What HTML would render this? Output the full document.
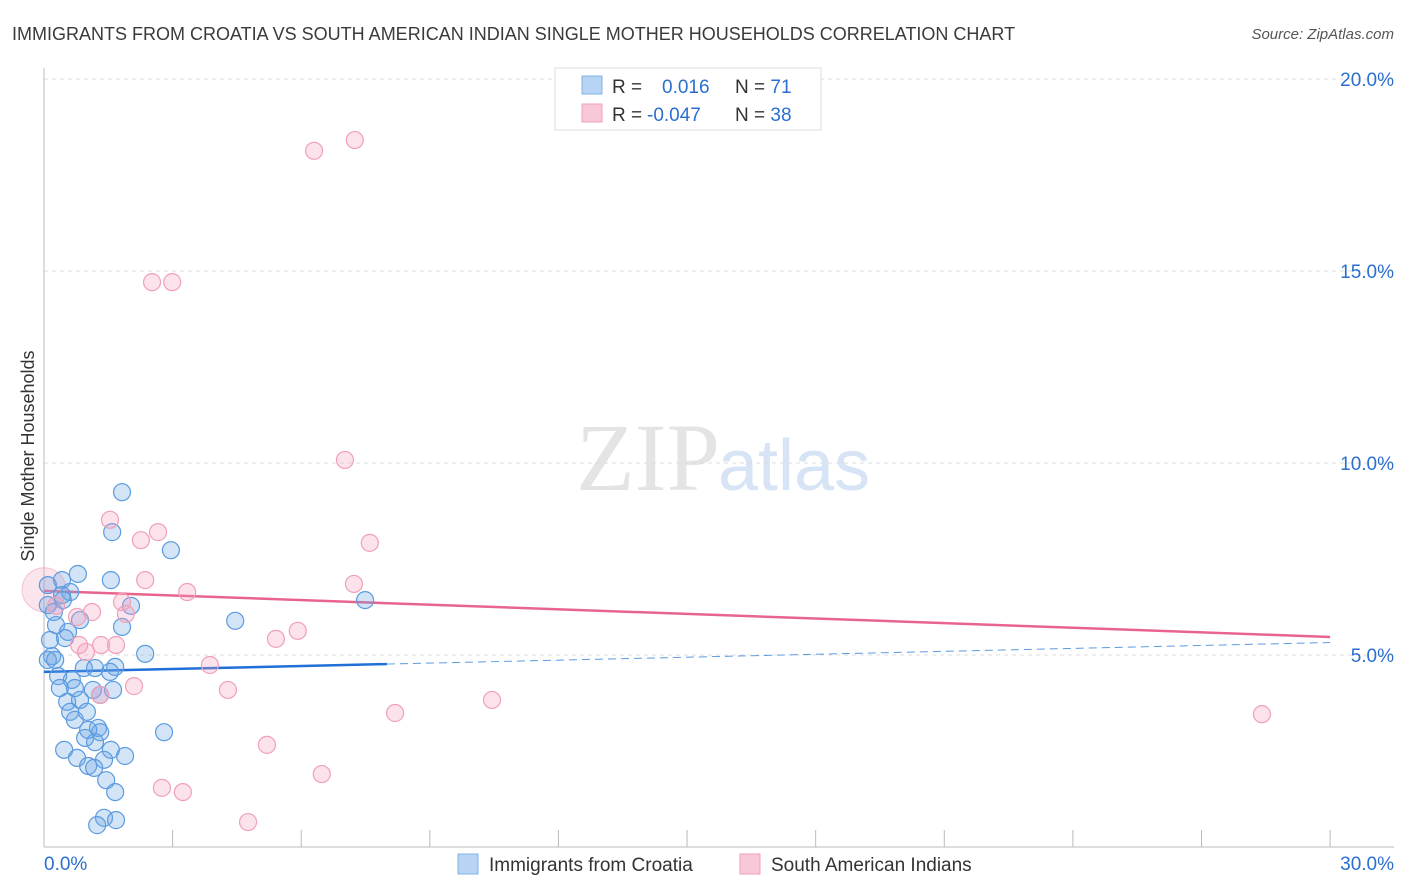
<!DOCTYPE html>
<html><head><meta charset="utf-8"><style>
body{margin:0;background:#fff;font-family:"Liberation Sans",sans-serif}
svg{display:block}
</style></head><body>
<svg id="c" width="1406" height="892">
<text x="12" y="40" font-size="18" fill="#3a3a3a">IMMIGRANTS FROM CROATIA VS SOUTH AMERICAN INDIAN SINGLE MOTHER HOUSEHOLDS CORRELATION CHART</text>
<text x="1394" y="39" font-size="15" fill="#555" text-anchor="end" font-style="italic">Source: ZipAtlas.com</text>
<text x="720" y="490" font-size="96" fill="#e4e4e4" text-anchor="end" font-family="Liberation Serif">ZIP</text>
<text x="718" y="490" font-size="72" fill="#d6e4f5">atlas</text>
<text transform="translate(34,456) rotate(-90)" font-size="18" fill="#333" text-anchor="middle">Single Mother Households</text>
<g id="grid"></g><g id="axes"></g><g id="lines"></g><g id="pts"></g>
<g>
<rect x="555" y="68" width="266" height="62" fill="#fff" stroke="#ddd"/>
<rect x="582" y="76" width="20" height="18" fill="#b8d4f5" stroke="#7fb0e8"/>
<rect x="582" y="104" width="20" height="18" fill="#f8c8d8" stroke="#f0a0b8"/>
<text x="612" y="93" font-size="19" fill="#333">R = <tspan fill="#2a6fd0" x="662">0.016</tspan><tspan x="735" fill="#333">N = </tspan><tspan fill="#2a6fd0">71</tspan></text>
<text x="612" y="121" font-size="19" fill="#333">R = <tspan fill="#2a6fd0" x="647">-0.047</tspan><tspan x="735" fill="#333">N = </tspan><tspan fill="#2a6fd0">38</tspan></text>
</g>
<g>
<rect x="458" y="854" width="20" height="20" fill="#b8d4f5" stroke="#7fb0e8"/>
<text x="489" y="871" font-size="19" fill="#333">Immigrants from Croatia</text>
<rect x="740" y="854" width="20" height="20" fill="#f8c8d8" stroke="#f0a0b8"/>
<text x="771" y="871" font-size="19" fill="#333">South American Indians</text>
</g>
</svg>
<script>
const blueX=[1.82,1.59,2.96,0.79,1.56,0.42,0.09,0.61,0.44,2.03,4.46,7.49,0.84,0.28,1.82,0.56,0.49,0.14,2.36,0.19,0.09,0.26,0.93,1.19,1.66,1.54,0.33,0.65,0.72,0.37,1.14,1.61,1.31,0.54,0.84,0.61,1.00,0.72,2.80,1.26,1.31,1.03,0.96,1.19,0.47,1.56,1.89,0.77,1.40,1.03,1.17,1.45,1.66,1.40,1.24,1.68,0.09,0.23,0.42];
const blueY=[9.24,8.20,7.73,7.11,6.95,6.95,6.82,6.64,6.43,6.28,5.89,6.43,5.91,5.78,5.73,5.60,5.44,5.39,5.03,4.97,4.87,4.87,4.66,4.66,4.69,4.56,4.45,4.35,4.14,4.14,4.09,4.09,3.96,3.78,3.83,3.52,3.52,3.31,2.99,3.10,2.99,3.05,2.84,2.73,2.53,2.53,2.37,2.32,2.27,2.11,2.06,1.74,1.43,0.76,0.57,0.70,6.30,6.12,6.56];
const pinkX=[6.30,7.25,2.52,2.99,7.02,1.54,2.66,2.26,7.60,2.36,7.23,3.34,1.12,1.91,0.77,1.82,0.28,5.41,5.92,1.33,1.68,0.82,0.98,3.87,2.10,4.29,1.31,8.19,10.45,28.41,5.20,6.48,2.75,3.24,4.76];
const pinkY=[18.13,18.41,14.71,14.71,10.08,8.52,8.20,7.99,7.92,6.95,6.85,6.64,6.12,6.07,5.99,6.38,6.28,5.42,5.63,5.26,5.26,5.26,5.08,4.74,4.19,4.09,3.96,3.49,3.83,3.46,2.66,1.90,1.54,1.43,0.65];
const yTicks=[5,10,15,20];
const yTickLabels=["5.0%","10.0%","15.0%","20.0%"];
const blueTrend=[4.56,0.0255]; // intercept, slope
const pinkTrend=[6.67,-0.04];
const X=v=>44+v*42.87, Y=v=>847-v*38.4;
const NS="http://www.w3.org/2000/svg";
function mk(p,t,a){const e=document.createElementNS(NS,t);for(const k in a)e.setAttribute(k,a[k]);document.getElementById(p).appendChild(e);return e;}
yTicks.forEach((v,i)=>{
 const l=mk('grid','line',{x1:44,x2:1394,y1:Y(v),y2:Y(v),stroke:'#ddd','stroke-dasharray':'4,4'});
 
 
 const t=mk('grid','text',{x:1394,y:Y(v)+7,'font-size':19,fill:'#2a6fd0','text-anchor':'end'});
 t.textContent=yTickLabels[i];
 
 
});
mk('axes','line',{x1:44,x2:44,y1:68,y2:847,stroke:'#bbb'});
mk('axes','line',{x1:44,x2:1394,y1:847,y2:847,stroke:'#bbb'});
for(let i=3;i<=30;i+=3){const t=mk('axes','line',{x1:X(i),x2:X(i),y1:830,y2:847,stroke:'#bbb'});
 
 }
let t0=mk('axes','text',{x:44,y:870,'font-size':19,fill:'#2a6fd0'});t0.textContent='0.0%';


let t1=mk('axes','text',{x:1394,y:870,'font-size':19,fill:'#2a6fd0','text-anchor':'end'});t1.textContent='30.0%';


// big pink
let bp=mk('pts','circle',{cx:X(0),cy:Y(6.7),r:22,fill:'rgba(240,150,180,0.25)',stroke:'rgba(240,150,180,0.5)'});


blueX.forEach((x,i)=>{const c=mk('pts','circle',{cx:X(x),cy:Y(blueY[i]),r:8.5,fill:'rgba(110,165,230,0.3)',stroke:'#5b9be0','stroke-width':1.2});
 
 });
pinkX.forEach((x,i)=>{const c=mk('pts','circle',{cx:X(x),cy:Y(pinkY[i]),r:8.5,fill:'rgba(245,160,190,0.3)',stroke:'#f0a0b8','stroke-width':1.2});
 
 });
let bl=mk('lines','line',{x1:X(0),y1:Y(blueTrend[0]),x2:X(8),y2:Y(blueTrend[0]+8*blueTrend[1]),stroke:'#1f6fd6','stroke-width':2.5});


let bd=mk('lines','line',{x1:X(8),y1:Y(blueTrend[0]+8*blueTrend[1]),x2:X(30),y2:Y(blueTrend[0]+30*blueTrend[1]),stroke:'#5b9be0','stroke-width':1,'stroke-dasharray':'8,5'});


let pl=mk('lines','line',{x1:X(0),y1:Y(pinkTrend[0]),x2:X(30),y2:Y(pinkTrend[0]+30*pinkTrend[1]),stroke:'#e8648f','stroke-width':2.5});


</script>
</body></html>
